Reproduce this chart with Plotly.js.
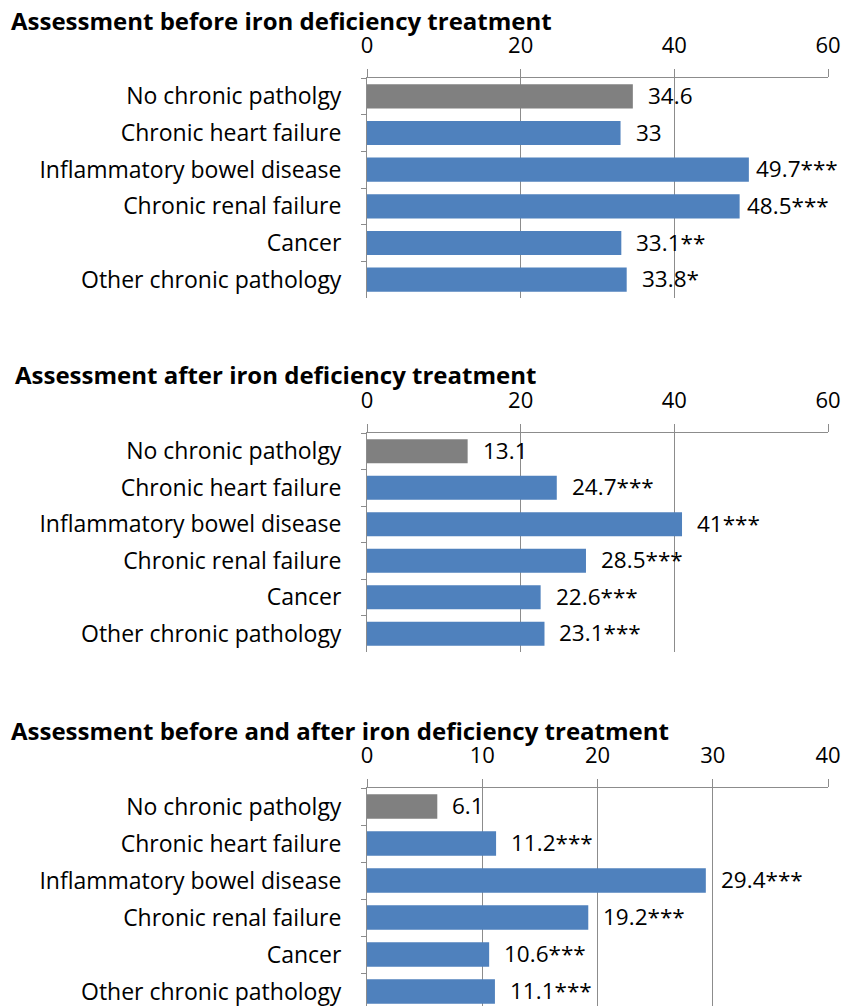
<!DOCTYPE html>
<html>
<head>
<meta charset="utf-8">
<script src="https://cdn.plot.ly/plotly-3.0.1.min.js"></script>
<style>html,body{margin:0;padding:0;background:#fff;}#chart{width:845px;height:1006px;}</style>
</head>
<body>
<div id="chart"></div>
<script>
const categories = ['No chronic patholgy','Chronic heart failure','Inflammatory bowel disease','Chronic renal failure','Cancer','Other chronic pathology'];
const beforeValues = [34.6, 33, 49.7, 48.5, 33.1, 33.8];
const beforeLabels = ['34.6', '33', '49.7***', '48.5***', '33.1**', '33.8*'];
const afterValues = [13.1, 24.7, 41, 28.5, 22.6, 23.1];
const afterLabels = ['13.1', '24.7***', '41***', '28.5***', '22.6***', '23.1***'];
const changeValues = [6.1, 11.2, 29.4, 19.2, 10.6, 11.1];
const changeLabels = ['6.1', '11.2***', '29.4***', '19.2***', '10.6***', '11.1***'];
const panelTitles = ['Assessment before iron deficiency treatment', 'Assessment after iron deficiency treatment', 'Assessment before and after iron deficiency treatment'];
const xTicks1 = [0, 20, 40, 60];
const xTicks3 = [0, 10, 20, 30, 40];

const W = 845, H = 1006;
const GRAY = '#808080', BLUE = '#4F81BD', GRID = '#8c8c8c';
const FONT = '"Open Sans", Lato, sans-serif';
const colors = categories.map((c, i) => i === 0 ? GRAY : BLUE);

const panels = [
  {vals: beforeValues, labels: beforeLabels, ticks: xTicks1, max: 60, top: 78, bottom: 298, titleY: 20, titleX: 9},
  {vals: afterValues, labels: afterLabels, ticks: xTicks1, max: 60, top: 433, bottom: 652, titleY: 375, titleX: 13},
  {vals: changeValues, labels: changeLabels, ticks: xTicks3, max: 40, top: 788, bottom: 1010, titleY: 730, titleX: 9}
];

const data = [];
const layout = {
  width: W, height: H,
  margin: {l: 0, r: 0, t: 0, b: 0},
  paper_bgcolor: '#fff', plot_bgcolor: '#fff',
  showlegend: false,
  bargap: 0.34,
  font: {family: FONT, size: 22, color: '#000'},
  annotations: []
};
const xd = [367 / W, 828 / W];

panels.forEach((p, i) => {
  const n = i === 0 ? '' : String(i + 1);
  const xa = 'x' + n, ya = 'y' + n;
  data.push({
    type: 'bar', orientation: 'h',
    x: p.vals, y: categories,
    xaxis: xa, yaxis: ya,
    marker: {color: colors, line: {width: 0}},
    hoverinfo: 'none'
  });
  const bottomPx = Math.min(p.bottom, H);
  const extra = (p.bottom - bottomPx) / ((p.bottom - p.top) / 6);
  layout['xaxis' + n] = {
    domain: xd, anchor: ya, side: 'top',
    range: [0, p.max], tickvals: p.ticks, ticktext: p.ticks.map(String),
    showgrid: true, gridcolor: GRID, gridwidth: 1,
    showline: true, linecolor: GRID, linewidth: 1,
    ticks: 'outside', ticklen: 8, tickcolor: GRID,
    ticklabelstandoff: 7,
    zeroline: false,
    tickfont: {family: FONT, size: 22, color: '#000'},
    fixedrange: true
  };
  layout['yaxis' + n] = {
    domain: [1 - bottomPx / H, 1 - p.top / H], anchor: xa,
    type: 'category',
    range: [5.5 - extra, -0.5],
    showline: true, linecolor: GRID, linewidth: 1,
    ticks: 'outside', ticklen: 5, tickcolor: GRID, tickson: 'boundaries',
    ticklabelstandoff: 20,
    showgrid: false, zeroline: false,
    tickfont: {family: FONT, size: 23, color: '#000'},
    fixedrange: true
  };
  layout.annotations.push({
    xref: 'paper', yref: 'paper', x: p.titleX / W, y: 1 - p.titleY / H,
    xanchor: 'left', yanchor: 'middle', showarrow: false,
    text: '<b>' + panelTitles[i] + '</b>',
    font: {family: FONT, size: 24, color: '#000'}
  });
  p.vals.forEach((v, j) => {
    layout.annotations.push({
      xref: xa, yref: ya, x: v, y: categories[j],
      xanchor: 'left', yanchor: 'middle', showarrow: false,
      xshift: v / p.max > 0.78 ? 5 : 13, yshift: 1,
      text: p.labels[j],
      font: {family: FONT, size: 22.5, color: '#000'}
    });
  });
});

Plotly.newPlot('chart', data, layout, {displayModeBar: false, staticPlot: true});
</script>
</body>
</html>
